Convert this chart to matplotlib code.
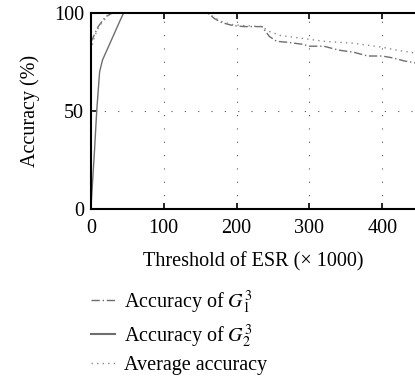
import matplotlib.pyplot as plt
from matplotlib.lines import Line2D

plt.rcParams['font.family'] = ['Liberation Serif', 'DejaVu Serif']
plt.rcParams['mathtext.fontset'] = 'stix'

# data (threshold x1000, accuracy %)
g1_x = [0, 10, 20, 30, 160, 170, 180, 195, 210, 235, 245, 255, 270, 290, 300,
        320, 340, 360, 380, 400, 415, 430, 445]
g1_y = [85, 93, 98, 100, 100, 97, 95, 93.5, 93, 93, 88, 85.5, 85, 84, 83,
        83, 81, 80, 78, 78, 77, 75.5, 74.5]

g2_x = [0, 5, 8, 12, 16, 22, 28, 34, 40, 45, 160, 445]
g2_y = [0, 30, 50, 70, 76, 81, 86, 91, 96, 100, 100, 100]

avg_x = [0, 5, 10, 15, 20, 25, 30, 160, 170, 180, 195, 210, 235, 245, 260,
         280, 300, 320, 340, 360, 380, 400, 420, 445]
avg_y = [81, 88, 92, 95, 97, 99, 100, 100, 97.5, 95.5, 94, 93.5, 93, 90.5, 88.5,
         87.5, 86.5, 85.5, 85, 84.5, 83.5, 82.5, 81, 79.5]

x_ticks = [0, 100, 200, 300, 400]
y_ticks = [0, 50, 100]

labels = [r'Accuracy of $G_1^3$', r'Accuracy of $G_2^3$', 'Average accuracy']

fs = 14.5
fig = plt.figure(figsize=(4.15, 3.78), dpi=100)
ax = fig.add_axes([0.219, 0.447, 0.781, 0.519])

col = '#6e6e6e'
ax.plot(g1_x, g1_y, color=col, lw=1.0, ls=(0, (6, 2, 1, 2)))
ax.plot(g2_x, g2_y, color=col, lw=1.0, ls='-')
ax.plot(avg_x, avg_y, color='#8a8a8a', lw=1.0, ls=(0, (1, 3)))

ax.set_xlim(0, 445)
ax.set_ylim(0, 100)
ax.set_xticks(x_ticks)
ax.set_yticks(y_ticks)
ax.tick_params(direction='in', top=True, labelsize=fs, length=4, width=1.2)
ax.tick_params(axis='x', pad=7)
ax.tick_params(axis='y', pad=5)
for x in x_ticks[1:]:
    ax.axvline(x, color='#555555', lw=0.8, ls=(0, (1, 11)))
ax.axhline(50, color='#555555', lw=0.8, ls=(0, (1, 11)))

ax.spines['right'].set_visible(False)
for s in ['left', 'bottom', 'top']:
    ax.spines[s].set_linewidth(1.5)

ax.set_xlabel('Threshold of ESR (× 1000)', fontsize=fs, labelpad=10)
ax.set_ylabel('Accuracy (%)', fontsize=fs, labelpad=10)

handles = [Line2D([], [], color=col, lw=1.0, ls=(0, (6, 2, 1, 2))),
           Line2D([], [], color=col, lw=1.5, ls='-'),
           Line2D([], [], color='#8a8a8a', lw=1.0, ls=(0, (1, 3)))]
fig.legend(handles, labels, loc='upper left', bbox_to_anchor=(0.185, 0.275),
           frameon=False, fontsize=fs, handlelength=1.2, labelspacing=0.32,
           handletextpad=0.45, borderpad=0.2)

fig.savefig('out.png', dpi=100)
